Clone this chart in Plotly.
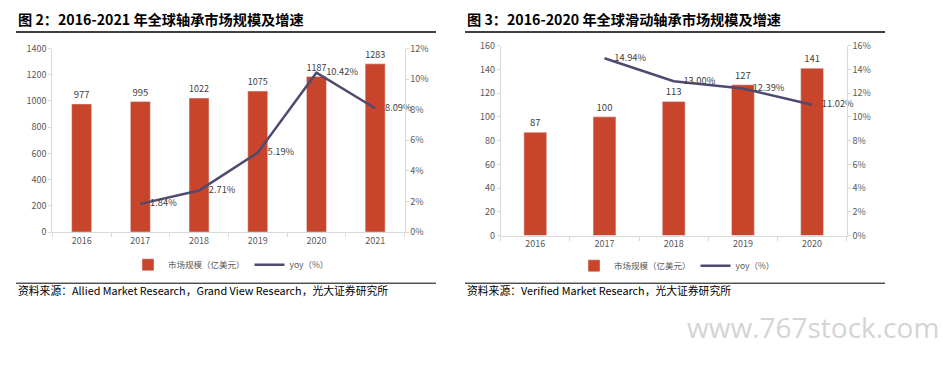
import plotly.graph_objects as go

W, H = 943, 379

# ---- data ----
years1 = ["2016", "2017", "2018", "2019", "2020", "2021"]
size1 = [977, 995, 1022, 1075, 1187, 1283]
yoy_years1 = ["2017", "2018", "2019", "2020", "2021"]
yoy1 = [1.84, 2.71, 5.19, 10.42, 8.09]

years2 = ["2016", "2017", "2018", "2019", "2020"]
size2 = [87, 100, 113, 127, 141]
yoy_years2 = ["2017", "2018", "2019", "2020"]
yoy2 = [14.94, 13.00, 12.39, 11.02]

title1 = "图 2：2016-2021 年全球轴承市场规模及增速"
title2 = "图 3：2016-2020 年全球滑动轴承市场规模及增速"
source1 = "资料来源：Allied Market Research，Grand View Research，光大证券研究所"
source2 = "资料来源：Verified Market Research，光大证券研究所"
bar_name = "市场规模（亿美元）"
line_name = "yoy（%）"
watermark = "www.767stock.com"

FONT = "Noto Sans CJK SC"
BAR_C = "#C8442A"
LINE_C = "#4F4A70"
AX_C = "#D9D9D9"
TICK_C = "#595959"

def px(x):
    return x / W

def py(y):
    return 1 - y / H

fig = go.Figure()

fig.add_trace(go.Bar(x=years1, y=size1, name=bar_name, marker_color=BAR_C, width=0.34,
                     text=[str(v) for v in size1], textposition="outside", cliponaxis=False,
                     textfont=dict(size=9.5, color="#404040"), xaxis="x", yaxis="y", legend="legend"))
fig.add_trace(go.Scatter(x=yoy_years1, y=yoy1, name=line_name, mode="lines+markers+text",
                         line=dict(color=LINE_C, width=2.5),
                         marker=dict(size=14, color="rgba(0,0,0,0)"),
                         text=[f"{v:.2f}%" for v in yoy1], textposition="middle right",
                         textfont=dict(size=9.3, color="#404040"), cliponaxis=False,
                         xaxis="x", yaxis="y2", legend="legend"))

fig.add_trace(go.Bar(x=years2, y=size2, name=bar_name, marker_color=BAR_C, width=0.33,
                     text=[str(v) for v in size2], textposition="outside", cliponaxis=False,
                     textfont=dict(size=9.5, color="#404040"), xaxis="x2", yaxis="y3", legend="legend2"))
fig.add_trace(go.Scatter(x=yoy_years2, y=yoy2, name=line_name, mode="lines+markers+text",
                         line=dict(color=LINE_C, width=2.5),
                         marker=dict(size=14, color="rgba(0,0,0,0)"),
                         text=[f"{v:.2f}%" for v in yoy2], textposition="middle right",
                         textfont=dict(size=9.3, color="#404040"), cliponaxis=False,
                         xaxis="x2", yaxis="y4", legend="legend2"))

tickfont = dict(family=FONT, size=9, color=TICK_C)
xcommon = dict(type="category", showline=True, linecolor=AX_C, linewidth=1, ticks="outside",
               tickson="boundaries", ticklen=4, tickcolor=AX_C, tickfont=tickfont,
               showgrid=False, zeroline=False, fixedrange=True)
ycommon = dict(showline=True, linecolor=AX_C, linewidth=1, ticks="outside", ticklen=3,
               tickcolor=AX_C, tickfont=tickfont, showgrid=False, zeroline=False, fixedrange=True)

fig.update_layout(
    width=W, height=H, autosize=False,
    margin=dict(l=0, r=0, t=0, b=0),
    paper_bgcolor="white", plot_bgcolor="white",
    font=dict(family=FONT, color=TICK_C),
    xaxis=dict(domain=[px(52.3), px(404.5)], anchor="y", **xcommon),
    yaxis=dict(domain=[py(233), py(43)], range=[0, 1400], dtick=200, anchor="x", side="left", **ycommon),
    yaxis2=dict(range=[0, 12], dtick=2, ticksuffix="%", overlaying="y", side="right", anchor="x", **ycommon),
    xaxis2=dict(domain=[px(500.7), px(846.7)], anchor="y3", **xcommon),
    yaxis3=dict(domain=[py(236.7), py(40)], range=[0, 160], dtick=20, anchor="x2", side="left", **ycommon),
    yaxis4=dict(range=[0, 16], dtick=2, ticksuffix="%", overlaying="y3", side="right", anchor="x2", **ycommon),
    legend=dict(orientation="h", x=px(128), y=py(267), xanchor="left", yanchor="middle",
                font=dict(family=FONT, size=8.5, color=TICK_C), bgcolor="rgba(0,0,0,0)",
                itemwidth=30, tracegroupgap=0),
    legend2=dict(orientation="h", x=px(574), y=py(268), xanchor="left", yanchor="middle",
                 font=dict(family=FONT, size=8.5, color=TICK_C), bgcolor="rgba(0,0,0,0)",
                 itemwidth=30, tracegroupgap=0),
    showlegend=True,
)

annotations = [
    dict(text=f"<b>{title1}</b>", x=px(16), y=py(12), xref="paper", yref="paper",
         xanchor="left", yanchor="middle", showarrow=False,
         font=dict(family=FONT, size=14.2, color="#000000")),
    dict(text=f"<b>{title2}</b>", x=px(465), y=py(12), xref="paper", yref="paper",
         xanchor="left", yanchor="middle", showarrow=False,
         font=dict(family=FONT, size=14.2, color="#000000")),
    dict(text=source1, x=px(16), y=py(293), xref="paper", yref="paper",
         xanchor="left", yanchor="middle", showarrow=False,
         font=dict(family=FONT, size=10.8, color="#000000")),
    dict(text=source2, x=px(465), y=py(293), xref="paper", yref="paper",
         xanchor="left", yanchor="middle", showarrow=False,
         font=dict(family=FONT, size=10.8, color="#000000")),
    dict(text=watermark, x=px(941), y=py(331), xref="paper", yref="paper",
         xanchor="right", yanchor="middle", showarrow=False,
         font=dict(family="Open Sans", size=28, color="#D4D4D4")),
]
fig.update_layout(annotations=annotations)

shapes = [
    dict(type="line", xref="paper", yref="paper", x0=px(16), x1=px(436), y0=py(26), y1=py(26),
         line=dict(color="#000000", width=1.5)),
    dict(type="line", xref="paper", yref="paper", x0=px(465), x1=px(885), y0=py(26), y1=py(26),
         line=dict(color="#000000", width=1.5)),
    dict(type="line", xref="paper", yref="paper", x0=px(16), x1=px(436), y0=py(286), y1=py(286),
         line=dict(color="#000000", width=1)),
    dict(type="line", xref="paper", yref="paper", x0=px(465), x1=px(885), y0=py(286), y1=py(286),
         line=dict(color="#000000", width=1)),
]
fig.update_layout(shapes=shapes)

fig.write_html("out.html", config={"displayModeBar": False, "staticPlot": True},
               post_script="document.body.style.margin='0';document.body.style.overflow='hidden';")
